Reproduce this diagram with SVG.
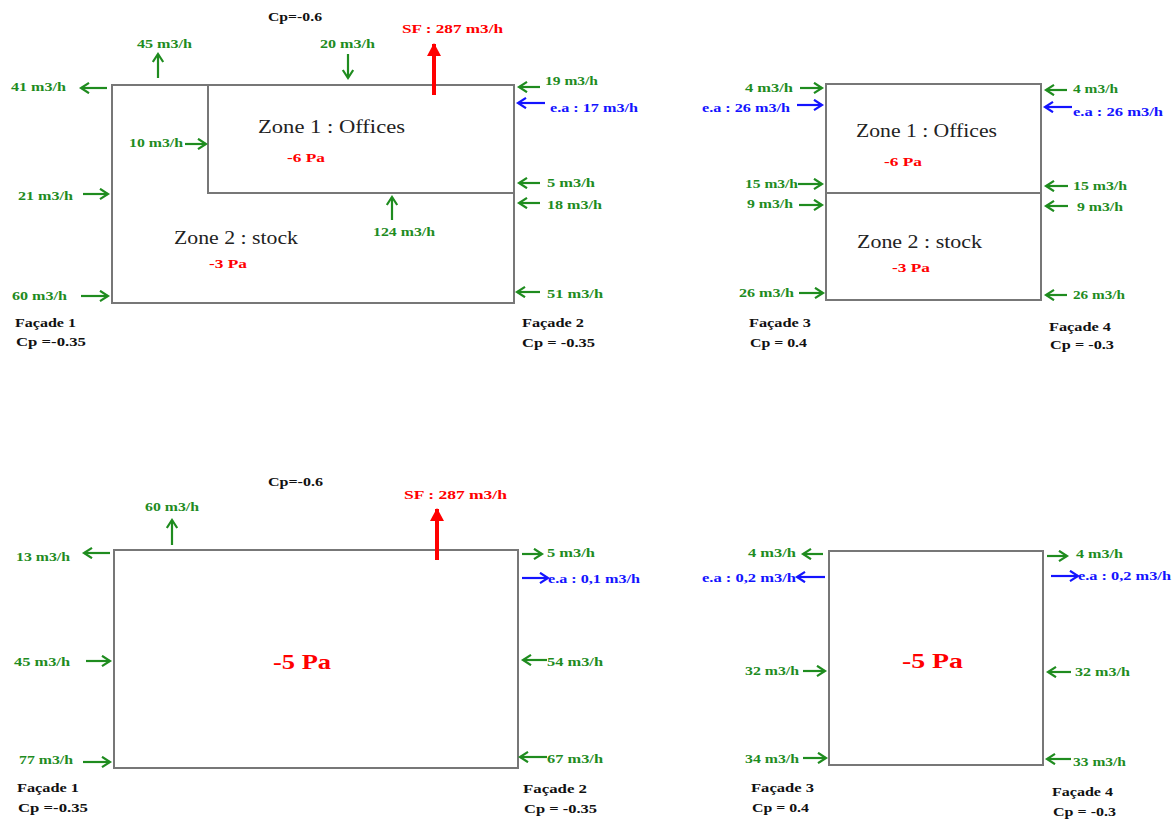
<svg xmlns="http://www.w3.org/2000/svg" width="1176" height="823" viewBox="0 0 1176 823">
<style>
text{font-family:"Liberation Serif","Times New Roman",serif;font-weight:bold}
.g{fill:#1f8c1f;font-size:13px}
.b{fill:#1414ff;font-size:13px}
.r{fill:#ff0000;font-size:13px}
.rb{fill:#ff0000;font-size:21px}
.k{fill:#111;font-size:13px}
.z{fill:#222;font-size:18px;font-weight:normal}
.box{fill:none;stroke:#777;stroke-width:2}
.ag{stroke:#1f8c1f;stroke-width:2.2;fill:none;marker-end:url(#mg)}
.ab{stroke:#1414ff;stroke-width:2.2;fill:none;marker-end:url(#mb)}
.ar{stroke:#ff0000;stroke-width:4;fill:none;marker-end:url(#mr)}
</style>
<defs>
<marker id="mg" markerUnits="userSpaceOnUse" markerWidth="14" markerHeight="14" refX="9" refY="6" orient="auto"><path d="M1,0.8 L9,6 L1,11.2" fill="none" stroke="#1f8c1f" stroke-width="2.2"/></marker>
<marker id="mb" markerUnits="userSpaceOnUse" markerWidth="14" markerHeight="14" refX="9" refY="6" orient="auto"><path d="M1,0.8 L9,6 L1,11.2" fill="none" stroke="#1414ff" stroke-width="2.2"/></marker>
<marker id="mr" markerUnits="userSpaceOnUse" markerWidth="16" markerHeight="16" refX="12" refY="7" orient="auto"><path d="M0,0 L13,7 L0,14 z" fill="#ff0000"/></marker>
</defs>
<rect width="1176" height="823" fill="#fff"/>

<!-- Diagram 1: top-left -->
<g id="d1-building"><rect class="box" x="112" y="85" width="402" height="218"/></g>
<g id="d1-zone1">
<rect class="box" x="208" y="85" width="306" height="108"/>
<text class="z" x="258" y="133" textLength="147" lengthAdjust="spacingAndGlyphs">Zone 1 :  Offices</text>
<text class="r" x="287" y="162" textLength="38" lengthAdjust="spacingAndGlyphs">-6 Pa</text>
</g>
<g id="d1-zone2">
<text class="z" x="174" y="244" textLength="124" lengthAdjust="spacingAndGlyphs">Zone 2 : stock</text>
<text class="r" x="209" y="268" textLength="38" lengthAdjust="spacingAndGlyphs">-3 Pa</text>
</g>
<g id="d1-labels">
<text class="k" x="268" y="21" textLength="54" lengthAdjust="spacingAndGlyphs">Cp=-0.6</text>
<text class="g" x="137" y="48" textLength="55" lengthAdjust="spacingAndGlyphs">45 m3/h</text>
<text class="g" x="11" y="91" textLength="55" lengthAdjust="spacingAndGlyphs">41 m3/h</text>
<text class="g" x="129" y="147" textLength="54" lengthAdjust="spacingAndGlyphs">10 m3/h</text>
<text class="g" x="320" y="48" textLength="55" lengthAdjust="spacingAndGlyphs">20 m3/h</text>
<text class="r" x="402" y="33" textLength="101" lengthAdjust="spacingAndGlyphs">SF : 287 m3/h</text>
<text class="g" x="545" y="85" textLength="53" lengthAdjust="spacingAndGlyphs">19 m3/h</text>
<text class="b" x="550" y="112" textLength="88" lengthAdjust="spacingAndGlyphs">e.a : 17 m3/h</text>
<text class="g" x="18" y="200" textLength="55" lengthAdjust="spacingAndGlyphs">21 m3/h</text>
<text class="g" x="12" y="300" textLength="55" lengthAdjust="spacingAndGlyphs">60 m3/h</text>
<text class="g" x="547" y="187" textLength="48" lengthAdjust="spacingAndGlyphs">5 m3/h</text>
<text class="g" x="547" y="209" textLength="55" lengthAdjust="spacingAndGlyphs">18 m3/h</text>
<text class="g" x="373" y="236" textLength="62" lengthAdjust="spacingAndGlyphs">124 m3/h</text>
<text class="g" x="547" y="298" textLength="56" lengthAdjust="spacingAndGlyphs">51 m3/h</text>
<text class="k" x="15" y="327" textLength="61" lengthAdjust="spacingAndGlyphs">Façade 1</text>
<text class="k" x="16" y="346" textLength="70" lengthAdjust="spacingAndGlyphs">Cp =-0.35</text>
<text class="k" x="522" y="327" textLength="62" lengthAdjust="spacingAndGlyphs">Façade 2</text>
<text class="k" x="522" y="347" textLength="73" lengthAdjust="spacingAndGlyphs">Cp = -0.35</text>
</g>

<!-- Diagram 2: top-right -->
<g id="d2-zone1">
<rect class="box" x="826" y="84" width="215" height="109"/>
<text class="z" x="856" y="137" textLength="141" lengthAdjust="spacingAndGlyphs">Zone 1 : Offices</text>
<text class="r" x="884" y="166" textLength="38" lengthAdjust="spacingAndGlyphs">-6 Pa</text>
</g>
<g id="d2-zone2">
<rect class="box" x="826" y="193" width="215" height="107"/>
<text class="z" x="857" y="248" textLength="125" lengthAdjust="spacingAndGlyphs">Zone 2 : stock</text>
<text class="r" x="892" y="272" textLength="38" lengthAdjust="spacingAndGlyphs">-3 Pa</text>
</g>
<g id="d2-labels">
<text class="g" x="745" y="92" textLength="48" lengthAdjust="spacingAndGlyphs">4 m3/h</text>
<text class="b" x="702" y="112" textLength="88" lengthAdjust="spacingAndGlyphs">e.a : 26 m3/h</text>
<text class="g" x="1073" y="93" textLength="45" lengthAdjust="spacingAndGlyphs">4 m3/h</text>
<text class="b" x="1073" y="116" textLength="90" lengthAdjust="spacingAndGlyphs">e.a : 26 m3/h</text>
<text class="g" x="745" y="188" textLength="53" lengthAdjust="spacingAndGlyphs">15 m3/h</text>
<text class="g" x="1073" y="190" textLength="54" lengthAdjust="spacingAndGlyphs">15 m3/h</text>
<text class="g" x="747" y="208" textLength="46" lengthAdjust="spacingAndGlyphs">9 m3/h</text>
<text class="g" x="1077" y="211" textLength="46" lengthAdjust="spacingAndGlyphs">9 m3/h</text>
<text class="g" x="739" y="297" textLength="55" lengthAdjust="spacingAndGlyphs">26 m3/h</text>
<text class="g" x="1073" y="299" textLength="52" lengthAdjust="spacingAndGlyphs">26 m3/h</text>
<text class="k" x="749" y="327" textLength="62" lengthAdjust="spacingAndGlyphs">Façade 3</text>
<text class="k" x="750" y="347" textLength="57" lengthAdjust="spacingAndGlyphs">Cp = 0.4</text>
<text class="k" x="1049" y="331" textLength="62" lengthAdjust="spacingAndGlyphs">Façade 4</text>
<text class="k" x="1050" y="349" textLength="64" lengthAdjust="spacingAndGlyphs">Cp = -0.3</text>
</g>

<!-- Diagram 3: bottom-left -->
<g id="d3-building">
<rect class="box" x="114" y="550" width="404" height="218"/>
<text class="rb" x="273" y="669" textLength="58" lengthAdjust="spacingAndGlyphs">-5 Pa</text>
</g>
<g id="d3-labels">
<text class="k" x="268" y="486" textLength="55" lengthAdjust="spacingAndGlyphs">Cp=-0.6</text>
<text class="g" x="145" y="511" textLength="54" lengthAdjust="spacingAndGlyphs">60 m3/h</text>
<text class="g" x="16" y="561" textLength="54" lengthAdjust="spacingAndGlyphs">13 m3/h</text>
<text class="r" x="404" y="499" textLength="103" lengthAdjust="spacingAndGlyphs">SF : 287 m3/h</text>
<text class="g" x="547" y="557" textLength="48" lengthAdjust="spacingAndGlyphs">5 m3/h</text>
<text class="b" x="548" y="583" textLength="92" lengthAdjust="spacingAndGlyphs">e.a : 0,1 m3/h</text>
<text class="g" x="14" y="666" textLength="56" lengthAdjust="spacingAndGlyphs">45 m3/h</text>
<text class="g" x="19" y="764" textLength="54" lengthAdjust="spacingAndGlyphs">77 m3/h</text>
<text class="g" x="547" y="666" textLength="56" lengthAdjust="spacingAndGlyphs">54 m3/h</text>
<text class="g" x="547" y="763" textLength="56" lengthAdjust="spacingAndGlyphs">67 m3/h</text>
<text class="k" x="17" y="792" textLength="62" lengthAdjust="spacingAndGlyphs">Façade 1</text>
<text class="k" x="18" y="812" textLength="70" lengthAdjust="spacingAndGlyphs">Cp =-0.35</text>
<text class="k" x="523" y="793" textLength="64" lengthAdjust="spacingAndGlyphs">Façade 2</text>
<text class="k" x="524" y="813" textLength="73" lengthAdjust="spacingAndGlyphs">Cp = -0.35</text>
</g>

<!-- Diagram 4: bottom-right -->
<g id="d4-building">
<rect class="box" x="829" y="551" width="214" height="214"/>
<text class="rb" x="902" y="668" textLength="61" lengthAdjust="spacingAndGlyphs">-5 Pa</text>
</g>
<g id="d4-labels">
<text class="g" x="748" y="557" textLength="48" lengthAdjust="spacingAndGlyphs">4 m3/h</text>
<text class="b" x="702" y="582" textLength="94" lengthAdjust="spacingAndGlyphs">e.a : 0,2 m3/h</text>
<text class="g" x="1076" y="558" textLength="47" lengthAdjust="spacingAndGlyphs">4 m3/h</text>
<text class="b" x="1078" y="580" textLength="93" lengthAdjust="spacingAndGlyphs">e.a : 0,2 m3/h</text>
<text class="g" x="745" y="675" textLength="54" lengthAdjust="spacingAndGlyphs">32 m3/h</text>
<text class="g" x="1075" y="676" textLength="55" lengthAdjust="spacingAndGlyphs">32 m3/h</text>
<text class="g" x="745" y="763" textLength="54" lengthAdjust="spacingAndGlyphs">34 m3/h</text>
<text class="g" x="1073" y="766" textLength="53" lengthAdjust="spacingAndGlyphs">33 m3/h</text>
<text class="k" x="751" y="792" textLength="63" lengthAdjust="spacingAndGlyphs">Façade 3</text>
<text class="k" x="752" y="812" textLength="57" lengthAdjust="spacingAndGlyphs">Cp = 0.4</text>
<text class="k" x="1052" y="796" textLength="61" lengthAdjust="spacingAndGlyphs">Façade 4</text>
<text class="k" x="1053" y="816" textLength="63" lengthAdjust="spacingAndGlyphs">Cp = -0.3</text>
</g>

<g id="connectors">
<!-- d1 -->
<line class="ag" x1="158" y1="78" x2="158" y2="54"/>
<line class="ag" x1="107" y1="88" x2="81" y2="88"/>
<line class="ag" x1="185" y1="144" x2="206" y2="144"/>
<line class="ag" x1="348" y1="54" x2="348" y2="78"/>
<line class="ar" x1="434" y1="95" x2="434" y2="44"/>
<line class="ag" x1="540" y1="87" x2="519" y2="87"/>
<line class="ab" x1="545" y1="103" x2="518" y2="103"/>
<line class="ag" x1="83" y1="194" x2="108" y2="194"/>
<line class="ag" x1="81" y1="296" x2="108" y2="296"/>
<line class="ag" x1="540" y1="183" x2="519" y2="183"/>
<line class="ag" x1="540" y1="203" x2="519" y2="203"/>
<line class="ag" x1="392" y1="220" x2="392" y2="197"/>
<line class="ag" x1="540" y1="292" x2="517" y2="292"/>
<!-- d2 -->
<line class="ag" x1="800" y1="88" x2="822" y2="88"/>
<line class="ab" x1="797" y1="105" x2="822" y2="105"/>
<line class="ag" x1="1067" y1="90" x2="1046" y2="90"/>
<line class="ab" x1="1072" y1="107" x2="1045" y2="107"/>
<line class="ag" x1="798" y1="184" x2="822" y2="184"/>
<line class="ag" x1="1068" y1="186" x2="1046" y2="186"/>
<line class="ag" x1="799" y1="205" x2="822" y2="205"/>
<line class="ag" x1="1068" y1="206" x2="1046" y2="206"/>
<line class="ag" x1="799" y1="293" x2="823" y2="293"/>
<line class="ag" x1="1067" y1="295" x2="1046" y2="295"/>
<!-- d3 -->
<line class="ag" x1="172" y1="545" x2="172" y2="520"/>
<line class="ag" x1="110" y1="553" x2="84" y2="553"/>
<line class="ar" x1="437" y1="560" x2="437" y2="509"/>
<line class="ag" x1="522" y1="554" x2="542" y2="554"/>
<line class="ab" x1="522" y1="578" x2="548" y2="578"/>
<line class="ag" x1="86" y1="661" x2="110" y2="661"/>
<line class="ag" x1="83" y1="762" x2="110" y2="762"/>
<line class="ag" x1="547" y1="660" x2="523" y2="660"/>
<line class="ag" x1="547" y1="757" x2="520" y2="757"/>
<!-- d4 -->
<line class="ag" x1="823" y1="554" x2="803" y2="554"/>
<line class="ab" x1="825" y1="577" x2="797" y2="577"/>
<line class="ag" x1="1047" y1="556" x2="1067" y2="556"/>
<line class="ab" x1="1051" y1="576" x2="1078" y2="576"/>
<line class="ag" x1="803" y1="671" x2="825" y2="671"/>
<line class="ag" x1="1071" y1="672" x2="1048" y2="672"/>
<line class="ag" x1="803" y1="758" x2="826" y2="758"/>
<line class="ag" x1="1071" y1="759" x2="1047" y2="759"/>
</g>
</svg>
